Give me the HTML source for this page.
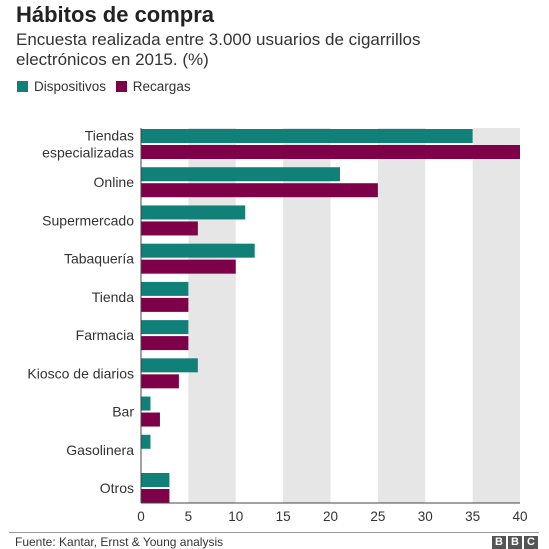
<!DOCTYPE html>
<html><head><meta charset="utf-8"><style>
body{margin:0;background:#fff;font-family:"Liberation Sans",sans-serif;}
#wrap{position:relative;width:549px;height:549px;overflow:hidden;}
</style></head><body>
<div id="wrap">
<div style="position:absolute;left:16px;top:2px;font-size:22px;font-weight:bold;color:#222;">Hábitos de compra</div>
<div style="position:absolute;left:16px;top:30px;font-size:17px;line-height:20px;color:#333;">Encuesta realizada entre 3.000 usuarios de cigarrillos<br>electrónicos en 2015. (%)</div>
<div style="position:absolute;left:17px;top:79px;font-size:13.5px;color:#333;">
<span><span style="display:inline-block;width:11px;height:11px;background:#118078;vertical-align:-1px;margin-right:6px"></span>Dispositivos</span>
<span style="margin-left:6px"><span style="display:inline-block;width:11px;height:11px;background:#7d0048;vertical-align:-1px;margin-right:6px"></span>Recargas</span>
</div>
<svg id="svg" width="549" height="549" style="position:absolute;left:0;top:0"></svg>
<div style="position:absolute;left:9px;top:532px;width:530px;height:1px;background:#999"></div>
<div style="position:absolute;left:15px;top:535px;font-size:12px;color:#333;">Fuente: Kantar, Ernst &amp; Young analysis</div>
<div style="position:absolute;left:492px;top:536px;display:flex;gap:2px;">
<span style="width:14px;height:13px;background:#555;color:#fff;font-size:11px;font-weight:bold;text-align:center;line-height:13px">B</span>
<span style="width:14px;height:13px;background:#555;color:#fff;font-size:11px;font-weight:bold;text-align:center;line-height:13px">B</span>
<span style="width:14px;height:13px;background:#555;color:#fff;font-size:11px;font-weight:bold;text-align:center;line-height:13px">C</span>
</div>
</div>
<script>
const categories=[["Tiendas","especializadas"],["Online"],["Supermercado"],["Tabaquería"],["Tienda"],["Farmacia"],["Kiosco de diarios"],["Bar"],["Gasolinera"],["Otros"]];
const dispositivos=[35,21,11,12,5,5,6,1,1,3];
const recargas=[40,25,6,10,5,5,4,2,0,3];
const ticks=[0,5,10,15,20,25,30,35,40];
const NS="http://www.w3.org/2000/svg";
const svg=document.getElementById('svg');
const x0=141,x1=520,top0=128,bottom=503,maxV=40;
const xs=v=>x0+(v/maxV)*(x1-x0);
const pitch=(bottom-1-30-top0)/(categories.length-1);
function mk(t,a){const e=document.createElementNS(NS,t);for(const k in a)e.setAttribute(k,a[k]);svg.appendChild(e);return e;}
for(let i=0;i<ticks.length-1;i++){if(i%2===1){const r=mk('rect',{x:xs(ticks[i]),y:top0,width:xs(ticks[i+1])-xs(ticks[i]),height:bottom-top0,fill:'#e6e6e6'});

}}
ticks.forEach(t=>{const e=mk('text',{x:xs(t),y:521,'text-anchor':'middle','font-size':13.5,fill:'#333','font-family':'Liberation Sans'});e.textContent=t;

});
categories.forEach((c,i)=>{
const y=top0+1+i*pitch;
const a=mk('rect',{x:x0,y:y,width:xs(dispositivos[i])-x0,height:14,fill:'#118078'});


const b=mk('rect',{x:x0,y:y+16,width:xs(recargas[i])-x0,height:14,fill:'#7d0048'});


const cy=y+15;
c.forEach((line,j)=>{const t=mk('text',{x:134,y:cy+5+(j-(c.length-1)/2)*17,'text-anchor':'end','font-size':14,fill:'#333','font-family':'Liberation Sans'});t.textContent=line;

});
});
const ax=mk('line',{x1:x0,y1:top0,x2:x0,y2:bottom,stroke:'#444','stroke-width':1});


const bx=mk('line',{x1:x0,y1:bottom,x2:x1,y2:bottom,stroke:'#444','stroke-width':1});


</script>
</body></html>
